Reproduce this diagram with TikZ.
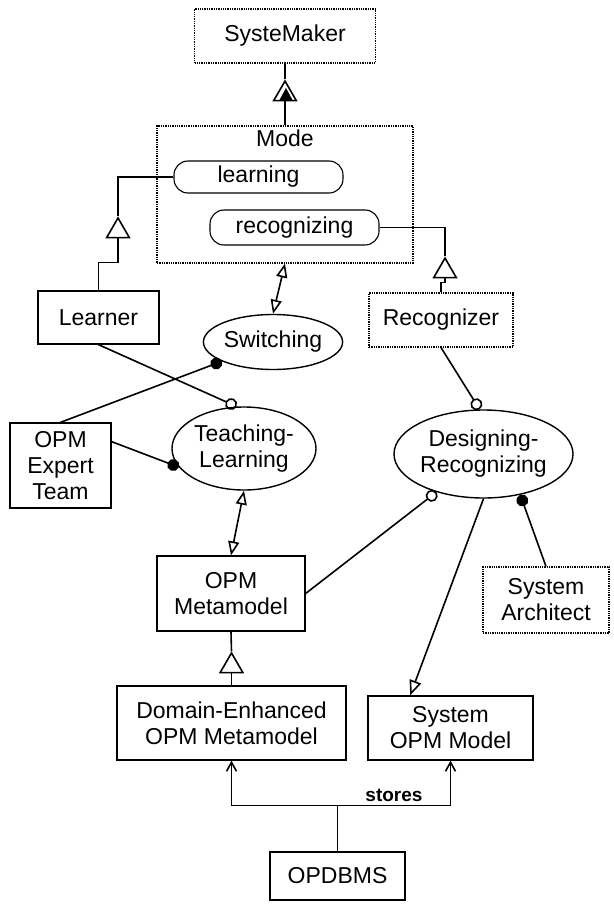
\documentclass[tikz,border=0pt]{standalone}
\usepackage{fontspec}
\setmainfont{Liberation Sans}
\usetikzlibrary{shapes.geometric,arrows.meta,positioning}

\begin{document}
\begin{tikzpicture}[x=1pt,y=-1pt,line width=1.6pt,
    font=\fontsize{23}{26}\selectfont,
    obj/.style={draw,rectangle,inner sep=0pt,align=center,line width=1.3pt},
    envobj/.style={obj,densely dotted,line width=1.1pt},
    proc/.style={draw,ellipse,inner sep=0pt,align=center,line width=1.4pt},
    state/.style={draw,rectangle,rounded corners=14pt,inner sep=0pt,line width=1.1pt},
    gentip/.style={-{Triangle[open,length=22pt,width=25pt]}},
    efftip/.style={{Triangle[open,length=14pt,width=11pt]}-{Triangle[open,length=14pt,width=11pt]}},
    agent/.style={-{Circle[length=12pt]}},
    instr/.style={-{Circle[open,length=12pt]}},
    storetip/.style={-{Straight Barb[length=9pt,width=10pt]}}]
    \useasboundingbox (0,0) rectangle (613,909);
    % objects and processes
    \node[envobj,minimum width=181pt,minimum height=54pt] (systemaker) at (285,36) {SysteMaker};
    \node[envobj,minimum width=256pt,minimum height=137pt] (mode) at (285,194.5) {};
    \node[inner sep=2pt,below=2pt of mode.north] (modetitle) {Mode};
    \node[state,minimum width=169pt,minimum height=32pt] (learning) at (258.5,177) {learning};
    \node[state,minimum width=169pt,minimum height=35pt] (recognizing) at (294.5,227.5) {recognizing};
    \node[obj,minimum width=121pt,minimum height=53pt] (learner) at (98.5,317.5) {Learner};
    \node[envobj,minimum width=144pt,minimum height=54pt] (recognizer) at (441,320) {Recognizer};
    \node[proc,minimum width=132pt,minimum height=55pt] (switching) at (273,342) {Switching};
    \node[obj,minimum width=101pt,minimum height=85pt] (expert) at (60.5,465.5) {OPM\\Expert\\Team};
    \node[proc,minimum width=144pt,minimum height=83pt] (teaching) at (244,448.5) {Teaching-\\Learning};
    \node[proc,minimum width=177pt,minimum height=88pt] (designing) at (483.5,454) {Designing-\\Recognizing};
    \node[obj,minimum width=148pt,minimum height=75pt] (opmmeta) at (231,593.5) {OPM\\Metamodel};
    \node[envobj,minimum width=126pt,minimum height=66pt] (architect) at (546,600) {System\\Architect};
    \node[obj,minimum width=229pt,minimum height=74pt] (domain) at (231.5,723) {Domain-Enhanced\\OPM Metamodel};
    \node[obj,minimum width=165pt,minimum height=64pt] (sysmodel) at (450.5,728) {System\\OPM Model};
    \node[obj,minimum width=135pt,minimum height=48pt] (opdbms) at (337.5,876) {OPDBMS};

    % structural links
    \draw[gentip] (mode.north) -- ++(0,-46) coordinate (smtip);
    \draw (smtip) -- (systemaker.south);
    \fill (286,88) -- (279.5,100) -- (292.5,100) -- cycle;
    \draw[gentip] (learner.north) -- ++(0,-28) -| ++(19.5,-46) coordinate (lrntip);
    \draw (lrntip) |- (learning.west);
    \draw[gentip] (recognizer.north) -- ++(0,-10) -| ++(4,-26) coordinate (rcgtip);
    \draw (rcgtip) |- (recognizing.east);
    \draw[gentip] (domain.north) -- ++(0,-34) coordinate (metatip);
    \draw (metatip) -- (opmmeta.south);

    % procedural links
    \draw[efftip] (mode.south) -- (switching.north);
    \draw[efftip] (teaching.south) -- (opmmeta.north);
    \draw[agent] (expert.north) -- (switching);
    \draw[agent] (expert.25) -- (teaching.196);
    \draw[instr] (learner.south) -- (teaching.100);
    \draw[instr] (recognizer.south) -- (designing.95);
    \draw[instr] (opmmeta.east) -- (designing.219);
    \draw[agent] (architect.north) -- (designing.312);
    \draw[-{Triangle[open,length=15pt,width=12pt]}] (designing.south) -- (sysmodel.141);

    % stores
    \draw (opdbms.north) -- ++(0,-46) coordinate (fork);
    \draw[storetip] (fork) -| (domain.south);
    \draw[storetip] (fork) -| node[pos=0.25,above,inner sep=3pt,font=\bfseries\fontsize{19}{22}\selectfont] (storeslbl) {stores} (sysmodel.south);
\end{tikzpicture}
\end{document}
